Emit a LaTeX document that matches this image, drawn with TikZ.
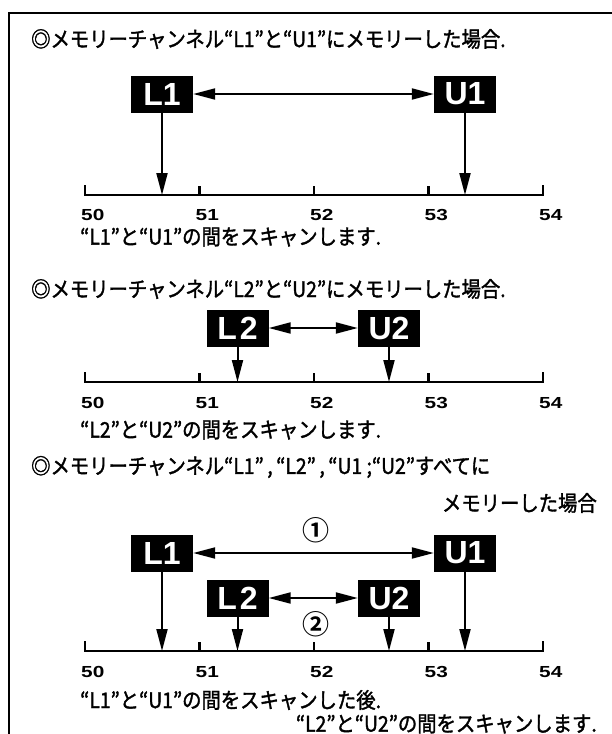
\documentclass[tikz,border=0pt]{standalone}
\usepackage{fontspec}
\usetikzlibrary{arrows.meta}
\newfontfamily\jpf{Noto Sans CJK JP}[FakeStretch=0.9, FakeBold=1.6]
\newfontfamily\jpbf{Noto Sans CJK JP Bold}
\newfontfamily\numf{Liberation Sans}[FakeStretch=1.3]
\newfontfamily\boxf{Liberation Sans}
\tikzset{
  lbl/.style={fill=black, text=white, font=\boxf\bfseries\fontsize{32}{32}\selectfont,
    minimum width=62pt, minimum height=37pt, inner sep=0pt},
  jtxt/.style={font=\jpf\fontsize{21.5}{21.5}\selectfont, inner sep=0pt},
  circ/.style={font=\jpbf\fontsize{27}{27}\selectfont, inner sep=0pt},
  num/.style={font=\numf\bfseries\fontsize{16}{16}\selectfont, inner sep=0pt, anchor=west},
  arr/.style={line width=2pt, -{Triangle[length=22pt,width=11pt]}},
  darr/.style={line width=2pt, {Triangle[length=22pt,width=11pt]}-{Triangle[length=22pt,width=11pt]}},
  axisl/.style={line width=2.2pt},
  frame/.style={line width=2pt},
}
\newcommand\myaxis[2]{% #1 = y of axis, #2 = y of labels
  \draw[axisl] (85,#1-10) -- (85,#1) -- (543,#1) -- (543,#1-10);
  \foreach \xx in {199.5,314,428.5} \draw[axisl] (\xx,#1-9) -- (\xx,#1);
  \foreach \xx/\vv in {85/50,199.5/51,314/52,428.5/53,543/54}
    \node[num] at (\xx-4,#2) {\vv};
}
\begin{document}
\begin{tikzpicture}[x=1pt,y=-1pt]
\useasboundingbox (0,0) rectangle (612,734);
\fill[white] (0,0) rectangle (612,734);
\draw[frame] (9,734) -- (9,13) -- (612,13);

% ---- section 1
\node[jtxt, anchor=west] (t1) at (31,39) {◎メモリーチャンネル“L1”と“U1”にメモリーした場合.};
\node[lbl] (L1a) at (162,94) {L1};
\node[lbl] (U1a) at (465,94) {U1};
\draw[darr] (L1a) -- (U1a);
\myaxis{195}{215}
\coordinate (pL1a) at (162,195);
\coordinate (pU1a) at (465,195);
\draw[arr] (L1a.south) -- (pL1a);
\draw[arr] (U1a.south) -- (pU1a);
\node[jtxt, anchor=west] (s1) at (80,237) {“L1”と“U1”の間をスキャンします.};

% ---- section 2
\node[jtxt, anchor=west] (t2) at (31,289) {◎メモリーチャンネル“L2”と“U2”にメモリーした場合.};
\node[lbl] (L2b) at (237.5,328) {L\hspace{3pt}2};
\node[lbl] (U2b) at (389,328) {U2};
\draw[darr] (L2b) -- (U2b);
\myaxis{382}{403}
\coordinate (pL2b) at (237.5,382);
\coordinate (pU2b) at (389,382);
\draw[arr] (L2b.south) -- (pL2b);
\draw[arr] (U2b.south) -- (pU2b);
\node[jtxt, anchor=west] (s2) at (80,430) {“L2”と“U2”の間をスキャンします.};

% ---- section 3
\node[jtxt, anchor=west] (t3) at (31,467) {◎メモリーチャンネル“L1”\,,\,“L2”\,,\,“U1\ ;“U2”すべてに};
\node[jtxt, anchor=east] (t3b) at (597,503) {メモリーした場合};
\node[lbl] (L1c) at (162,553) {L1};
\node[lbl] (U1c) at (465,553) {U1};
\node[lbl] (L2c) at (237.5,598) {L\hspace{3pt}2};
\node[lbl] (U2c) at (389,598) {U2};
\draw[darr] (L1c) -- (U1c);
\draw[darr] (L2c) -- (U2c);
\node[circ] (c1) at (316,530) {①};
\node[circ] (c2) at (316,624) {②};
\myaxis{651}{672}
\coordinate (pL1c) at (162,651);
\coordinate (pU1c) at (465,651);
\coordinate (pL2c) at (237.5,651);
\coordinate (pU2c) at (389,651);
\draw[arr] (L1c.south) -- (pL1c);
\draw[arr] (U1c.south) -- (pU1c);
\draw[arr] (L2c.south) -- (pL2c);
\draw[arr] (U2c.south) -- (pU2c);
\node[jtxt, anchor=west] (s3) at (80,700) {“L1”と“U1”の間をスキャンした後.};
\node[jtxt, anchor=east] (s3b) at (597,724) {“L2”と“U2”の間をスキャンします.};
\end{tikzpicture}
\end{document}
